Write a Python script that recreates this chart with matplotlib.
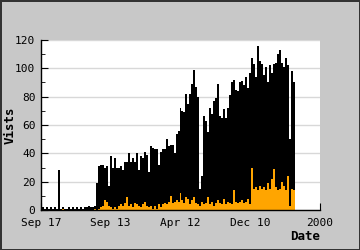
import numpy as np
import matplotlib
matplotlib.use("Agg")
import matplotlib.pyplot as plt

# one bar per two pixel columns
visits = [
    2, 1, 2, 1, 2, 1, 2, 1, 28, 1, 2, 1, 1, 2, 1, 2, 1, 2, 1, 2, 1, 2, 2, 3, 2, 2, 3,
    19, 31, 32, 32, 30, 31, 17, 38, 30, 37, 30, 30, 31, 28, 34, 34, 40, 34, 37, 34,
    40, 28, 38, 37, 41, 39, 27, 45, 44, 43, 43, 32, 41, 43, 43, 50, 45, 46, 46, 40,
    54, 56, 72, 70, 69, 82, 75, 82, 89, 99, 87, 80, 15, 24, 66, 63, 55, 72, 68, 77,
    79, 89, 66, 65, 71, 65, 72, 81, 90, 92, 85, 84, 90, 91, 88, 94, 86, 97, 107, 103,
    94, 116, 105, 103, 95, 101, 90, 102, 97, 103, 104, 110, 113, 104, 101, 107, 102,
    50, 98, 90,
]
visitors = [
    0, 0, 0, 0, 0, 0, 0, 0, 0, 0, 1, 0, 0, 0, 0, 0, 0, 0, 0, 0, 0, 0, 0, 0, 0, 0, 1,
    0, 1, 2, 3, 7, 6, 3, 2, 1, 2, 1, 3, 4, 3, 5, 9, 3, 4, 2, 5,
    4, 3, 2, 4, 6, 3, 2, 3, 1, 3, 1, 4, 2, 4, 5, 4, 6, 10, 5, 6,
    7, 6, 12, 7, 5, 9, 8, 4, 7, 9, 5, 4, 3, 6, 4, 5, 9, 4, 6, 3,
    5, 7, 5, 4, 8, 4, 6, 5, 4, 14, 6, 5, 6, 7, 5, 6, 8, 4, 30, 15,
    16, 14, 17, 15, 16, 14, 19, 15, 22, 29, 16, 14, 15, 20, 17, 14, 24,
    3, 15, 14,
]
tick_labels = ["Sep 17", "Sep 13", "Apr 12", "Dec 10", "2000"]

n = min(len(visits), len(visitors))
x = 1 + 2 * np.arange(n)

fig = plt.figure(figsize=(3.6, 2.5), dpi=100, facecolor="#c8c8c8",
                 edgecolor="#333333", linewidth=0.8)
ax = fig.add_axes([41 / 360, 40 / 250, 279 / 360, 170 / 250])
ax.set_facecolor("white")

ax.bar(x, visits[:n], width=2, align="edge", color="black", linewidth=0, zorder=2)
ax.bar(x, visitors[:n], width=2, align="edge", color="#ffa500", linewidth=0, zorder=3)

ax.set_xlim(0, 280)
ax.set_ylim(0, 120)
ax.set_yticks(np.arange(0, 121, 20))
ax.set_yticks(np.arange(0, 121, 10), minor=True)
ax.set_xticks(np.linspace(0, 280, len(tick_labels)))
ax.set_xticklabels(tick_labels)
ax.grid(axis="y", which="major", color="#d8d8d8", linewidth=1, zorder=0)
ax.set_axisbelow(True)

for s in ["top", "right"]:
    ax.spines[s].set_visible(False)
for s in ["left", "bottom"]:
    ax.spines[s].set_linewidth(1)
    ax.spines[s].set_zorder(5)

ax.tick_params(axis="both", which="both", direction="in", colors="black",
               labelsize=8)
ax.tick_params(axis="y", which="major", length=5, pad=4)
ax.tick_params(axis="y", which="minor", length=3)
ax.tick_params(axis="x", length=5, pad=6)
for lab in ax.get_xticklabels() + ax.get_yticklabels():
    lab.set_family("DejaVu Sans Mono")

fig.text(10 / 360, 1 - 125 / 250, "Vists", rotation=90, ha="center", va="center",
         family="DejaVu Sans Mono", fontweight="bold", fontsize=9)
fig.text(320 / 360, 1 - 236 / 250, "Date", ha="right", va="center",
         family="DejaVu Sans Mono", fontweight="bold", fontsize=9)

fig.savefig("out.png", dpi=100, facecolor=fig.get_facecolor(),
            edgecolor=fig.get_edgecolor())
